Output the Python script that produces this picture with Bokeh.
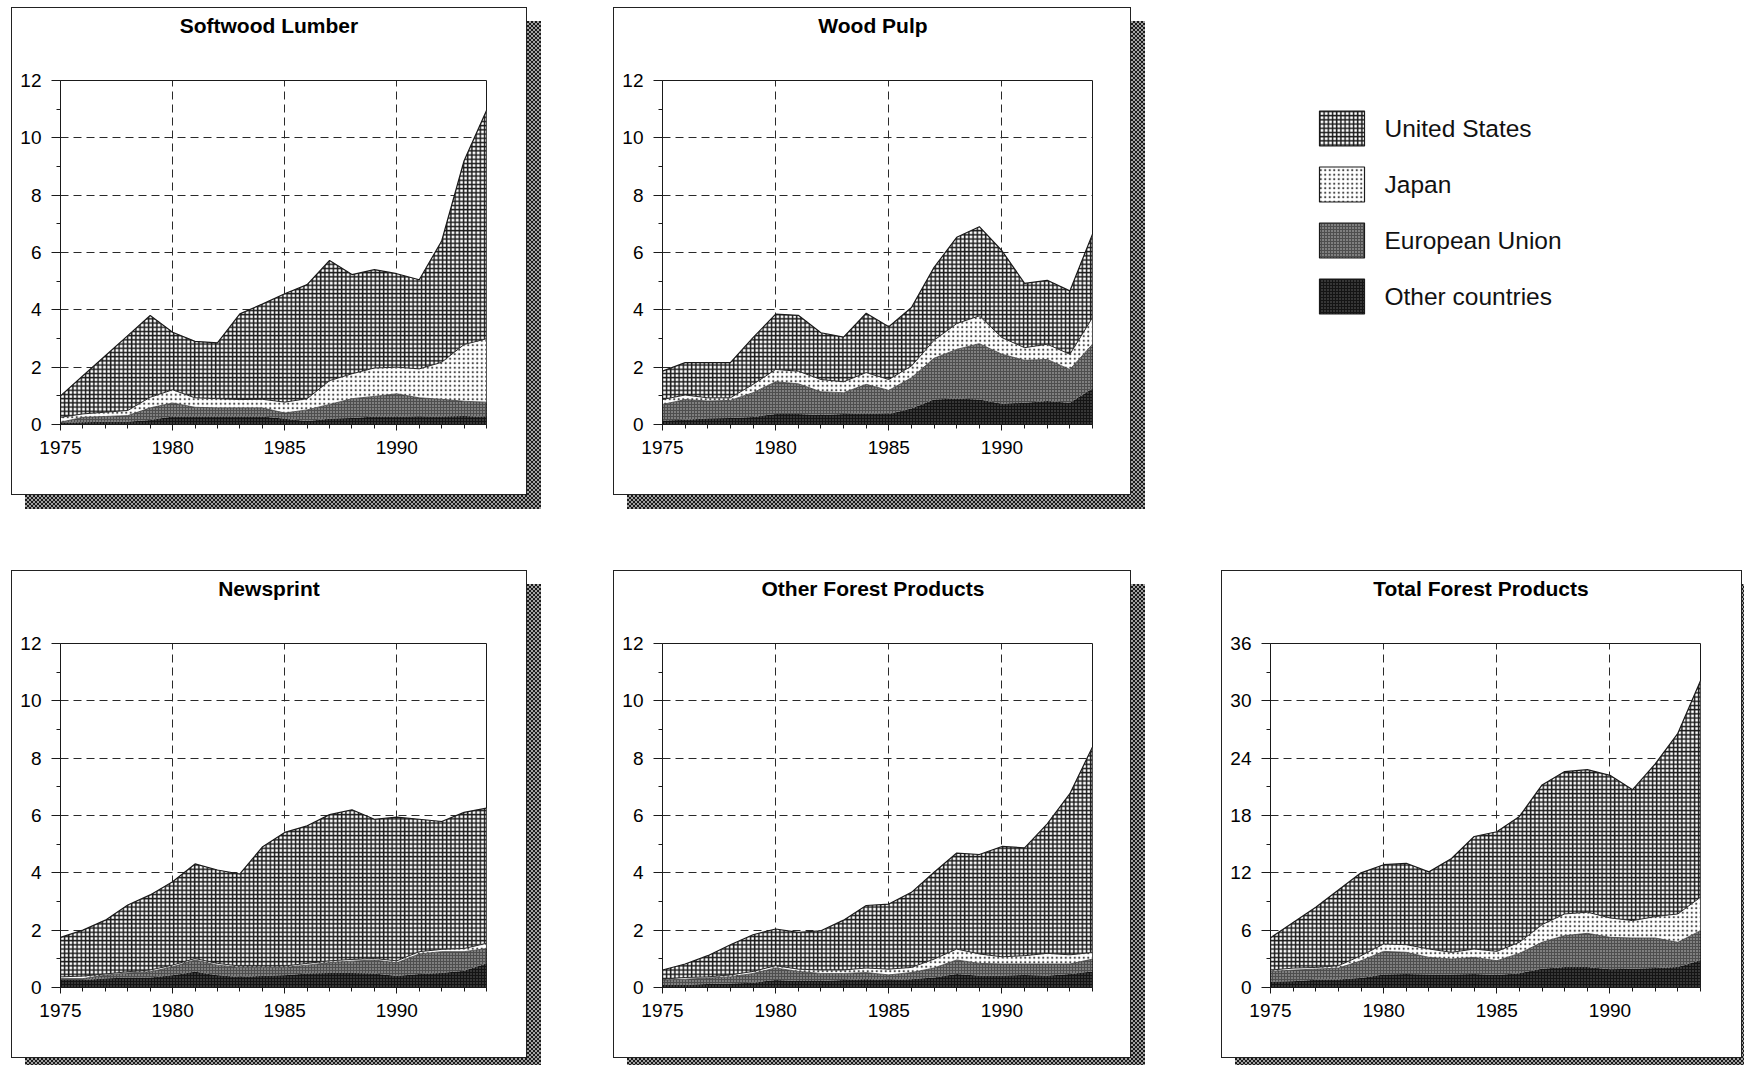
import numpy as np
from bokeh.plotting import figure
from bokeh.layouts import row, column
from bokeh.models import Spacer, FixedTicker, Range1d, FactorRange, InlineStyleSheet
from bokeh.core.properties import value
from bokeh.embed import file_html
from bokeh.resources import INLINE

# ---------------- data (billion US$) ----------------
years = list(range(1975, 1995))
countries = ["United States", "Japan", "European Union", "Other countries"]
stack_order = ["Other countries", "European Union", "Japan", "United States"]

softwood_us = [0.75, 1.33, 1.97, 2.61, 2.85, 2.01, 1.97, 1.95, 2.99, 3.32, 3.78, 3.98, 4.19, 3.46, 3.43, 3.26, 3.11, 4.23, 6.41, 7.96]
softwood_japan = [0.17, 0.12, 0.15, 0.18, 0.37, 0.46, 0.33, 0.32, 0.29, 0.30, 0.38, 0.39, 0.83, 0.87, 0.99, 0.93, 1.01, 1.29, 1.98, 2.21]
softwood_eu = [0.03, 0.17, 0.18, 0.21, 0.42, 0.47, 0.32, 0.30, 0.30, 0.30, 0.20, 0.39, 0.50, 0.67, 0.70, 0.79, 0.67, 0.60, 0.51, 0.52]
softwood_other = [0.05, 0.08, 0.10, 0.10, 0.16, 0.28, 0.28, 0.28, 0.28, 0.28, 0.20, 0.12, 0.20, 0.23, 0.28, 0.28, 0.26, 0.28, 0.30, 0.26]

pulp_us = [0.99, 1.13, 1.23, 1.23, 1.63, 1.93, 1.95, 1.63, 1.56, 2.07, 1.84, 2.04, 2.54, 3.01, 3.11, 3.03, 2.24, 2.23, 2.21, 2.91]
pulp_japan = [0.17, 0.16, 0.11, 0.09, 0.29, 0.43, 0.44, 0.43, 0.38, 0.41, 0.38, 0.41, 0.63, 0.90, 0.97, 0.58, 0.44, 0.53, 0.53, 0.93]
pulp_eu = [0.56, 0.70, 0.61, 0.61, 0.85, 1.12, 1.05, 0.81, 0.74, 1.02, 0.82, 1.07, 1.44, 1.71, 1.95, 1.73, 1.48, 1.45, 1.16, 1.54]
pulp_other = [0.14, 0.17, 0.21, 0.23, 0.26, 0.37, 0.37, 0.33, 0.37, 0.38, 0.37, 0.56, 0.87, 0.91, 0.87, 0.72, 0.76, 0.82, 0.76, 1.26]

news_us = [1.38, 1.60, 1.88, 2.33, 2.62, 2.91, 3.30, 3.26, 3.21, 4.15, 4.66, 4.80, 5.10, 5.22, 4.86, 5.01, 4.62, 4.46, 4.75, 4.72]
news_japan = [0.06, 0.09, 0.04, 0.04, 0.06, 0.06, 0.05, 0.06, 0.05, 0.05, 0.05, 0.06, 0.06, 0.06, 0.05, 0.07, 0.08, 0.08, 0.11, 0.18]
news_eu = [0.05, 0.05, 0.12, 0.16, 0.20, 0.29, 0.41, 0.35, 0.33, 0.30, 0.27, 0.29, 0.36, 0.41, 0.47, 0.46, 0.70, 0.74, 0.67, 0.52]
news_other = [0.26, 0.26, 0.31, 0.35, 0.35, 0.43, 0.55, 0.43, 0.37, 0.40, 0.43, 0.49, 0.51, 0.51, 0.49, 0.40, 0.47, 0.51, 0.58, 0.84]

ofp_us = [0.32, 0.47, 0.74, 1.05, 1.28, 1.28, 1.28, 1.37, 1.74, 2.18, 2.27, 2.62, 3.03, 3.35, 3.47, 3.85, 3.76, 4.52, 5.62, 7.17]
ofp_japan = [0.03, 0.06, 0.04, 0.07, 0.07, 0.08, 0.08, 0.12, 0.12, 0.16, 0.20, 0.18, 0.31, 0.38, 0.33, 0.25, 0.29, 0.37, 0.32, 0.23]
ofp_eu = [0.17, 0.20, 0.21, 0.23, 0.32, 0.42, 0.33, 0.26, 0.23, 0.23, 0.18, 0.23, 0.33, 0.49, 0.43, 0.41, 0.38, 0.41, 0.35, 0.43]
ofp_other = [0.09, 0.09, 0.12, 0.14, 0.17, 0.26, 0.23, 0.23, 0.26, 0.29, 0.26, 0.29, 0.35, 0.47, 0.41, 0.41, 0.44, 0.41, 0.47, 0.56]

total_us = [3.38, 4.77, 6.30, 7.92, 8.67, 8.30, 8.52, 8.07, 9.82, 11.77, 12.52, 13.17, 14.62, 14.90, 14.92, 14.92, 13.70, 15.98, 18.90, 22.65]
total_japan = [0.14, 0.21, 0.17, 0.25, 0.53, 0.77, 0.80, 0.88, 0.70, 0.88, 0.98, 1.16, 1.85, 2.27, 2.21, 2.03, 1.82, 2.24, 2.97, 3.50]
total_eu = [1.08, 1.17, 1.13, 1.18, 1.80, 2.43, 2.28, 1.80, 1.63, 1.75, 1.50, 2.07, 2.78, 3.28, 3.52, 3.35, 3.23, 3.13, 2.58, 3.10]
total_other = [0.60, 0.65, 0.80, 0.85, 1.00, 1.35, 1.40, 1.35, 1.35, 1.40, 1.30, 1.50, 1.95, 2.15, 2.15, 1.90, 1.95, 2.05, 2.15, 2.85]

x_major = [1975, 1980, 1985, 1990]
x_grid = [1980, 1985, 1990]
y_major_12 = [0, 2, 4, 6, 8, 10, 12]
y_minor_12 = [1, 3, 5, 7, 9, 11]
y_major_36 = [0, 6, 12, 18, 24, 30, 36]
y_minor_36 = [3, 9, 15, 21, 27, 33]

# ---------------- styles ----------------
FONT = "Liberation Sans"
INK = "#1a1a1a"

STYLE = {
    "United States": dict(fill_color="#ffffff", hatch_pattern="cross", hatch_color="#1a1a1a",
                          hatch_scale=4.2, hatch_weight=1.5),
    "Japan": dict(fill_color="#ffffff", hatch_pattern="dot", hatch_color="#4a4a4a",
                  hatch_scale=4.5, hatch_weight=1.2),
    "European Union": dict(fill_color="#4e4e4e", hatch_pattern="dot", hatch_color="#c8c8c8",
                           hatch_scale=3.0, hatch_weight=1.0),
    "Other countries": dict(fill_color="#363636", hatch_pattern="cross", hatch_color="#141414",
                            hatch_scale=3.0, hatch_weight=1.0),
}

PANEL_CSS = """
:host { position: relative; z-index: 0; }
:host::before { content: ""; position: absolute; left: 0; top: 0; right: 0; bottom: 0;
  box-sizing: border-box; border: 1px solid #222; z-index: 5; pointer-events: none; }
:host::after { content: ""; position: absolute; left: 14px; top: 14px; width: 100%; height: 100%;
  z-index: -1; pointer-events: none;
  background: repeating-conic-gradient(#1a1a1a 0% 25%, #a0a0a0 0% 50%) 0 0 / 4px 4px; }
"""
CLIP_CSS = ":host { overflow: hidden; background-color: #ffffff; }"

PANEL_H = 488
TITLE_H = 61


def make_panel(title, series, ymax, ymajor, yminor, width, plot_w):
    # title strip
    t = figure(width=width, height=TITLE_H, x_range=Range1d(0, width), y_range=Range1d(0, TITLE_H),
               output_backend="svg", toolbar_location=None,
               x_axis_location=None, y_axis_location=None, min_border=0,
               outline_line_color=None, background_fill_color="white", border_fill_color="white",
               stylesheets=[InlineStyleSheet(css=CLIP_CSS)])
    t.grid.visible = False
    t.text(x=[width / 2 - 5.5], y=[TITLE_H - 17.5], text=[title], text_align="center",
           text_baseline="middle", text_font=value(FONT), text_font_size="21px",
           text_font_style="bold", text_color="#000000")

    # chart
    p = figure(width=width, height=PANEL_H - TITLE_H,
               x_range=Range1d(1975, 1994), y_range=Range1d(0, ymax),
               output_backend="svg", toolbar_location=None,
               min_border_left=49, min_border_right=width - 49 - plot_w,
               min_border_top=12, min_border_bottom=71,
               background_fill_color="white", border_fill_color="white",
               outline_line_color=INK, outline_line_width=1,
               stylesheets=[InlineStyleSheet(css=CLIP_CSS)])

    base = np.zeros(len(years))
    tops = {}
    for c in stack_order:
        top = base + np.array(series[c], dtype=float)
        p.varea(x=years, y1=base, y2=top, **STYLE[c])
        tops[c] = top
        base = top
    p.line(years, tops["European Union"], line_color="#3a3a3a", line_width=0.8)
    p.line(years, tops["Japan"], line_color="#2a2a2a", line_width=1.0)
    p.line(years, tops["United States"], line_color=INK, line_width=1.2)

    p.xaxis.ticker = FixedTicker(ticks=x_major, minor_ticks=years)
    p.yaxis.ticker = FixedTicker(ticks=ymajor, minor_ticks=yminor)
    for ax in p.axis:
        ax.major_label_text_font = FONT
        ax.major_label_text_font_size = "19px"
        ax.major_label_text_color = "#000000"
        ax.axis_line_color = INK
        ax.major_tick_line_color = INK
        ax.minor_tick_line_color = INK
        ax.major_tick_in = 0
        ax.minor_tick_in = 0
        ax.minor_tick_out = 4
    p.xaxis.major_tick_out = 6
    p.xaxis.major_label_standoff = 10
    p.yaxis.major_tick_out = 9
    p.yaxis.major_label_standoff = 10

    p.xgrid.ticker = FixedTicker(ticks=x_grid)
    p.grid.grid_line_color = "#2a2a2a"
    p.grid.grid_line_dash = "8 5"
    p.grid.grid_line_width = 1
    return column(t, p, stylesheets=[InlineStyleSheet(css=PANEL_CSS)])


def series_of(us, jp, eu, ot):
    return {"United States": us, "Japan": jp, "European Union": eu, "Other countries": ot}


f1 = make_panel("Softwood Lumber", series_of(softwood_us, softwood_japan, softwood_eu, softwood_other),
                12, y_major_12, y_minor_12, 516, 426)
f2 = make_panel("Wood Pulp", series_of(pulp_us, pulp_japan, pulp_eu, pulp_other),
                12, y_major_12, y_minor_12, 518, 430)
f3 = make_panel("Newsprint", series_of(news_us, news_japan, news_eu, news_other),
                12, y_major_12, y_minor_12, 516, 426)
f4 = make_panel("Other Forest Products", series_of(ofp_us, ofp_japan, ofp_eu, ofp_other),
                12, y_major_12, y_minor_12, 518, 430)
f5 = make_panel("Total Forest Products", series_of(total_us, total_japan, total_eu, total_other),
                36, y_major_36, y_minor_36, 521, 430)

# ---------------- legend ----------------
leg = figure(width=330, height=224, x_range=Range1d(0, 330),
             y_range=FactorRange(factors=list(reversed(countries))),
             output_backend="svg", toolbar_location=None,
             x_axis_location=None, y_axis_location=None,
             min_border=0, outline_line_color=None,
             background_fill_color="white", border_fill_color="white",
             stylesheets=[InlineStyleSheet(css=CLIP_CSS)])
leg.grid.visible = False
for c in countries:
    leg.rect(x=[41.5], y=[c], width=45, height=35, width_units="screen", height_units="screen",
             line_color=INK, line_width=1.2, **STYLE[c])
leg.text(x=[84] * len(countries), y=countries, text=countries,
         text_baseline="middle", text_align="left",
         text_font=value(FONT), text_font_size="24.5px", text_color="#111111")

row1 = row(Spacer(width=11, height=PANEL_H), f1, Spacer(width=86, height=PANEL_H), f2,
           Spacer(width=169, height=PANEL_H), column(Spacer(width=330, height=93), leg))
row2 = row(Spacer(width=11, height=PANEL_H), f3, Spacer(width=86, height=PANEL_H), f4,
           Spacer(width=90, height=PANEL_H), f5, Spacer(width=2, height=PANEL_H))
page = column(Spacer(width=10, height=7), row1, Spacer(width=10, height=75), row2,
              Spacer(width=10, height=7), styles={"overflow": "hidden"})

open("out.html", "w").write(file_html(page, INLINE))
